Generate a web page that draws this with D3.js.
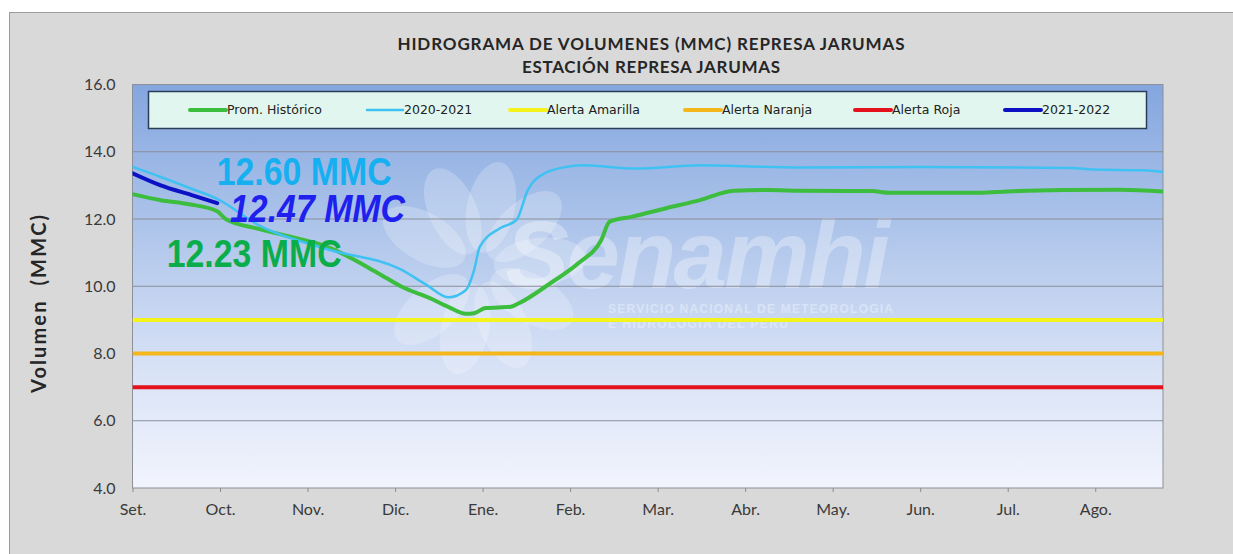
<!DOCTYPE html>
<html>
<head>
<meta charset="utf-8">
<script src="https://cdn.jsdelivr.net/npm/d3@7.9.0/dist/d3.min.js"></script>
<style>
  body { margin: 0; background: #fff; }
  svg { display: block; }
</style>
</head>
<body>
<svg id="chart" width="1233" height="554"></svg>
<script>
// month labels, one tick every 31 days
const months = ['Set.', 'Oct.', 'Nov.', 'Dic.', 'Ene.', 'Feb.', 'Mar.', 'Abr.', 'May.', 'Jun.', 'Jul.', 'Ago.'];
const yTicks = [4, 6, 8, 10, 12, 14, 16];

// Prom. Histórico (day of hydrological year, volume MMC)
const histDays = [0, 10, 20, 30, 33, 45, 57, 69, 87, 95, 106, 112, 118, 121, 125, 134, 137, 148, 158, 166, 169, 177, 189, 201, 213, 225, 237, 262, 268, 300, 310, 330, 350, 365];
const histVol = [12.74, 12.56, 12.44, 12.23, 12.0, 11.70, 11.45, 11.17, 10.39, 10.0, 9.62, 9.38, 9.18, 9.20, 9.35, 9.39, 9.50, 10.09, 10.69, 11.37, 11.92, 12.07, 12.32, 12.56, 12.84, 12.86, 12.84, 12.83, 12.78, 12.78, 12.82, 12.86, 12.87, 12.82];

// 2020-2021
const prevDays = [0, 10, 20, 30, 45, 69, 95, 104, 112, 118, 121, 123, 130, 136, 140, 146, 149, 160, 178, 201, 237, 280, 333, 340, 358, 365];
const prevVol = [13.55, 13.25, 12.93, 12.60, 11.80, 11.10, 10.50, 10.05, 9.67, 9.88, 10.48, 11.17, 11.72, 11.97, 12.86, 13.36, 13.46, 13.60, 13.50, 13.60, 13.53, 13.55, 13.52, 13.47, 13.45, 13.40];

// 2021-2022 (current)
const currDays = [0, 10, 21, 30];
const currVol = [13.36, 13.0, 12.71, 12.47];

// alert thresholds
const alertNames = ['Alerta Amarilla', 'Alerta Naranja', 'Alerta Roja'];
const alertLevels = [9, 8, 7];

const legendNames = ['Prom. Histórico', '2020-2021', 'Alerta Amarilla', 'Alerta Naranja', 'Alerta Roja', '2021-2022'];
const legendColors = ['#3dbd3d', '#3fc2f2', '#f4f41c', '#f4b61a', '#e3121c', '#0c12c4'];

const svg = d3.select('#chart');

// gray panel behind the chart
svg.append('rect')
  .attr('x', 9.5).attr('y', 12.5)
  .attr('width', 1240).attr('height', 560)
  .attr('fill', '#d9d9d9')
  .attr('stroke', '#9c9c9c');

const x = d3.scaleLinear().domain([0, 365]).range([132.5, 1163]);
const y = d3.scaleLinear().domain([4, 16]).range([488, 84.5]);

const [x0, x1] = x.range();
const [yb, yt] = y.range();

// plot background gradient
const defs = svg.append('defs');
const grad = defs.append('linearGradient')
  .attr('id', 'bg').attr('x1', 0).attr('y1', 0).attr('x2', 0).attr('y2', 1);
grad.append('stop').attr('offset', '0%').attr('stop-color', '#84a6df');
grad.append('stop').attr('offset', '35%').attr('stop-color', '#adc4ea');
grad.append('stop').attr('offset', '70%').attr('stop-color', '#d8e2f6');
grad.append('stop').attr('offset', '100%').attr('stop-color', '#f2f4fd');

defs.append('clipPath').attr('id', 'clip')
  .append('rect').attr('x', x0).attr('y', yt).attr('width', x1 - x0).attr('height', yb - yt);

svg.append('rect')
  .attr('x', x0).attr('y', yt)
  .attr('width', x1 - x0).attr('height', yb - yt)
  .attr('fill', 'url(#bg)');

// watermark (Senamhi logo)
const wm = svg.append('g').attr('clip-path', 'url(#clip)').attr('fill', '#ffffff');
d3.range(9).forEach(i => {
  const a = -60 + i * 36;
  wm.append('ellipse')
    .attr('cx', 0).attr('cy', -62)
    .attr('rx', 24).attr('ry', 46)
    .attr('transform', `translate(478,268) rotate(${a})`)
    .attr('opacity', 0.22);
});
wm.append('text')
  .attr('x', 505).attr('y', 288)
  .attr('font-family', 'Liberation Sans, Arial, sans-serif')
  .attr('font-weight', 'bold').attr('font-style', 'italic')
  .attr('font-size', 96)
  .attr('textLength', 385)
  .attr('opacity', 0.32)
  .text('Senamhi');
wm.append('text')
  .attr('x', 608).attr('y', 313)
  .attr('font-family', 'Liberation Sans, Arial, sans-serif')
  .attr('font-weight', 'bold').attr('font-size', 12)
  .attr('textLength', 285).attr('opacity', 0.35)
  .text('SERVICIO NACIONAL DE METEOROLOGIA');
wm.append('text')
  .attr('x', 608).attr('y', 328)
  .attr('font-family', 'Liberation Sans, Arial, sans-serif')
  .attr('font-weight', 'bold').attr('font-size', 12)
  .attr('textLength', 180).attr('opacity', 0.35)
  .text('E HIDROLOGIA DEL PERU');

// horizontal gridlines
svg.append('g')
  .selectAll('line')
  .data(yTicks.slice(1, -1))
  .join('line')
  .attr('x1', x0).attr('x2', x1)
  .attr('y1', d => y(d)).attr('y2', d => y(d))
  .attr('stroke', '#8a8e98').attr('stroke-width', 1);

// plot border
svg.append('rect')
  .attr('x', x0).attr('y', yt)
  .attr('width', x1 - x0).attr('height', yb - yt)
  .attr('fill', 'none')
  .attr('stroke', '#8c9099');

// axes
const yAxis = svg.append('g')
  .attr('transform', `translate(${x0},0)`)
  .call(d3.axisLeft(y).tickValues(yTicks).tickFormat(d3.format('.1f')).tickSize(0).tickPadding(17));
const xAxis = svg.append('g')
  .attr('transform', `translate(0,${yb})`)
  .call(d3.axisBottom(x)
    .tickValues(months.map((m, i) => i * 31))
    .tickFormat((d, i) => months[i])
    .tickSize(4).tickPadding(12));
[yAxis, xAxis].forEach(g => {
  g.select('.domain').remove();
  g.selectAll('line').attr('stroke', '#8c8c8c');
  g.selectAll('text')
    .attr('font-family', 'Lato, sans-serif')
    .attr('font-size', 16)
    .attr('fill', '#3a3a3a');
});

// alert lines
const plot = svg.append('g').attr('clip-path', 'url(#clip)');
plot.selectAll('.alert')
  .data(alertLevels)
  .join('line')
  .attr('class', 'alert')
  .attr('x1', x0).attr('x2', x1)
  .attr('y1', d => y(d)).attr('y2', d => y(d))
  .attr('stroke', (d, i) => legendColors[legendNames.indexOf(alertNames[i])])
  .attr('stroke-width', 4);

// series lines
function drawSeries(days, vols, color, width) {
  const line = d3.line()
    .x((d, i) => x(days[i]))
    .y(d => y(d))
    .curve(d3.curveMonotoneX);
  plot.append('path')
    .attr('d', line(vols))
    .attr('fill', 'none')
    .attr('stroke', color)
    .attr('stroke-width', width)
    .attr('stroke-linejoin', 'round')
    .attr('stroke-linecap', 'round');
}
drawSeries(histDays, histVol, legendColors[0], 4);
drawSeries(prevDays, prevVol, legendColors[1], 2.5);
drawSeries(currDays, currVol, legendColors[5], 4);

// legend box
svg.append('rect')
  .attr('x', 148.5).attr('y', 91.5)
  .attr('width', 998).attr('height', 37)
  .attr('fill', '#e1f6ee')
  .attr('stroke', '#2a3c58').attr('stroke-width', 1.5);

const legendX = [190, 367, 510, 685, 855, 1005];
const items = svg.append('g')
  .selectAll('g')
  .data(legendNames)
  .join('g')
  .attr('transform', (d, i) => `translate(${legendX[i]},110)`);
items.append('line')
  .attr('x1', 0).attr('x2', 36)
  .attr('stroke', (d, i) => legendColors[i])
  .attr('stroke-width', (d, i) => i === 1 ? 2.5 : 4)
  .attr('stroke-linecap', 'round');
items.append('text')
  .attr('x', 37).attr('dy', '0.35em')
  .attr('font-family', 'DejaVu Sans, sans-serif')
  .attr('font-size', 12.5)
  .attr('fill', '#222')
  .text(d => d);

// title
const title = svg.append('g')
  .attr('font-family', 'Lato, sans-serif')
  .attr('font-weight', 'bold')
  .attr('font-size', 17)
  .attr('fill', '#262626')
  .attr('text-anchor', 'middle');
title.append('text').attr('x', 651).attr('y', 50)
  .attr('textLength', 507)
  .text('HIDROGRAMA DE VOLUMENES (MMC) REPRESA JARUMAS');
title.append('text').attr('x', 651).attr('y', 73)
  .attr('textLength', 258)
  .text('ESTACIÓN REPRESA JARUMAS');

// y axis title
svg.append('text')
  .attr('transform', 'translate(46,304) rotate(-90)')
  .attr('text-anchor', 'middle')
  .attr('font-family', 'Lato, sans-serif')
  .attr('font-weight', 'bold')
  .attr('font-size', 20)
  .attr('textLength', 178)
  .attr('fill', '#262626')
  .attr('xml:space', 'preserve')
  .text('Volumen  (MMC)');

// value annotations at the current date
const lastIdx = currDays.length - 1;
const dayNow = currDays[lastIdx];
const notes = [
  { v: prevVol[prevDays.indexOf(dayNow)], color: '#16b0f0', italic: false, x: 216.7, y: 185 },
  { v: currVol[lastIdx], color: '#2020ee', italic: true, x: 230, y: 222 },
  { v: histVol[histDays.indexOf(dayNow)], color: '#0aad4a', italic: false, x: 166.7, y: 267 }
];
svg.append('g')
  .selectAll('text')
  .data(notes)
  .join('text')
  .attr('x', d => d.x).attr('y', d => d.y)
  .attr('font-family', 'Liberation Sans, Arial, sans-serif')
  .attr('font-weight', 'bold')
  .attr('font-style', d => d.italic ? 'italic' : 'normal')
  .attr('font-size', 39)
  .attr('textLength', 175)
  .attr('lengthAdjust', 'spacingAndGlyphs')
  .attr('fill', d => d.color)
  .text(d => `${d.v.toFixed(2)} MMC`);
</script>
</body>
</html>
